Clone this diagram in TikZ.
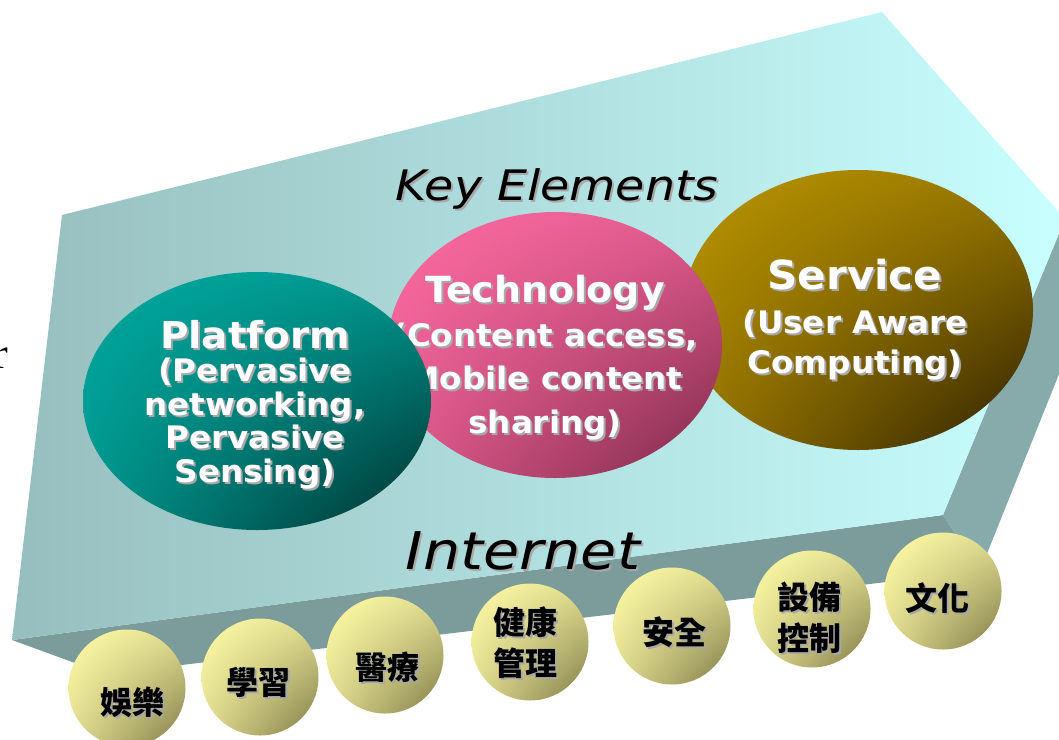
\documentclass[tikz,border=0pt]{standalone}
\usepackage{fontspec}
\usepackage{tikz}
\usetikzlibrary{shapes.geometric,shadings}

\newfontfamily\labelfont[FakeStretch=1.05]{DejaVu Sans}
\newfontfamily\headfont[FakeStretch=1.13]{DejaVu Sans}
\newfontfamily\cjk{Noto Sans CJK TC}
\newfontfamily\serifr{Liberation Serif}

\definecolor{slabL}{HTML}{97BEBE}
\definecolor{slabR}{HTML}{C9FFFF}
\definecolor{slabBottom}{HTML}{7B9C9B}
\definecolor{slabSide}{HTML}{87AAAA}
\definecolor{dropgray}{HTML}{A8A8A8}
\definecolor{ballL}{HTML}{FFFCA6}
\definecolor{ballM}{HTML}{E0DC90}
\definecolor{ballD}{HTML}{7E7A46}
\definecolor{servL}{HTML}{B89400}
\definecolor{servM}{HTML}{9A7800}
\definecolor{servD}{HTML}{2A1E00}
\definecolor{techL}{HTML}{FF6CA2}
\definecolor{techM}{HTML}{E05A8E}
\definecolor{techD}{HTML}{7A2846}
\definecolor{platL}{HTML}{00A89E}
\definecolor{platM}{HTML}{00968E}
\definecolor{platD}{HTML}{002C2A}

% text with a grey drop shadow: name, style, position, text
\newcommand{\dropnode}[4]{%
  \node[#2, text=dropgray] (#1-sh) at ([shift={(2,2)}]#3) {#4};
  \node[#2] (#1) at (#3) {#4};}

\begin{document}
\begin{tikzpicture}[
  x=1pt, y=-1pt,
  keyblob/.style={ellipse, inner sep=0pt,
    upper left=#1L, upper right=#1M, lower left=#1M, lower right=#1D},
  whitetext/.style={text=white, align=center, anchor=base, inner sep=0pt},
  headtext/.style={anchor=base, inner sep=0pt},
  ball/.style={circle, inner sep=0pt, minimum size=117pt,
    upper left=ballL, upper right=ballM, lower left=ballM, lower right=ballD},
  balltext/.style={align=center, inner sep=0pt, font=\cjk\bfseries\fontsize{32}{41}\selectfont}]
\useasboundingbox (0,0) rectangle (1059,739);

% the slab
\fill[slabBottom] (12,640) -- (943,515) -- (980,571) -- (105,674) -- cycle;
\fill[slabSide] (1065,219) -- (943,515) -- (980,571) -- (1100,272) -- cycle;
\shade[left color=slabL, right color=slabR]
  (62,215) -- (882,12) -- (1065,219) -- (943,515) -- (12,640) -- cycle;

\node[anchor=base east, inner sep=0pt, font=\serifr\fontsize{44}{44}\selectfont] (cut) at (8,368) {r};

\dropnode{keyel}{headtext, font=\headfont\itshape\fontsize{42}{42}\selectfont}{557,200}{Key Elements}
\dropnode{inet}{headtext, font=\headfont\itshape\fontsize{52}{52}\selectfont}{523,569}{Internet}

% key elements (text nodes sit on their last baseline)
\node[keyblob=serv, minimum width=350pt, minimum height=280pt] (service) at (858,310) {};
\dropnode{servtxt}{whitetext, font=\labelfont\bfseries\fontsize{31}{40}\selectfont}{855,373}
  {{\fontsize{40}{40}\selectfont Service}\\[4pt](User Aware\\Computing)}

\node[keyblob=tech, minimum width=334pt, minimum height=266pt] (tech) at (555,345) {};
\dropnode{techtxt}{whitetext, font=\labelfont\bfseries\fontsize{31}{43.5}\selectfont}{545,433}
  {{\fontsize{36}{40}\selectfont Technology}\\(Content access,\\Mobile content\\sharing)}

\node[keyblob=plat, minimum width=348pt, minimum height=258pt] (platform) at (257,401) {};
\dropnode{platxt}{whitetext, font=\labelfont\bfseries\fontsize{31}{33.5}\selectfont}{255,482}
  {{\fontsize{37}{40}\selectfont Platform}\\(Pervasive\\networking,\\Pervasive\\Sensing)}

% application balls
\node[ball] (fun) at (127,688) {};
\node[ball] (learn) at (260,677) {};
\node[ball] (medical) at (385,655) {};
\node[ball] (health) at (530,642) {};
\node[ball] (safety) at (672,626) {};
\node[ball] (device) at (812,609) {};
\node[ball] (culture) at (943,591) {};
\dropnode{funtxt}{balltext}{132,702}{娛樂}
\dropnode{learntxt}{balltext}{258,682}{學習}
\dropnode{medtxt}{balltext}{387,667}{醫療}
\dropnode{healthtxt}{balltext}{525,643}{健康\\管理}
\dropnode{safetxt}{balltext}{674,632}{安全}
\dropnode{devtxt}{balltext}{809,618}{設備\\控制}
\dropnode{culttxt}{balltext}{937,598}{文化}

\end{tikzpicture}
\end{document}
